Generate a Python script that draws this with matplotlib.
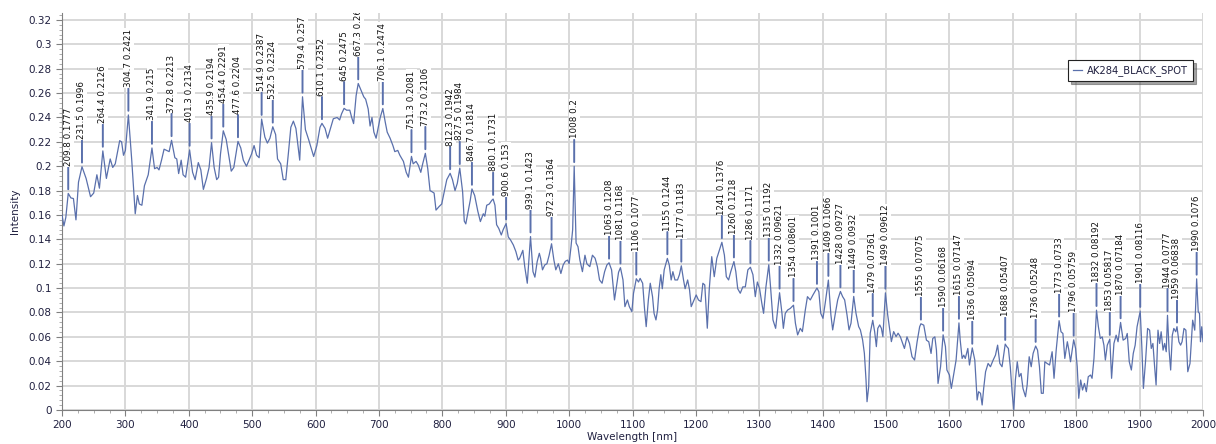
import matplotlib
matplotlib.use("Agg")
import matplotlib.pyplot as plt
from matplotlib.ticker import MultipleLocator, FuncFormatter
from matplotlib.transforms import ScaledTranslation

# spectrum
wavelength = [
    200, 203, 206, 209.8, 214, 218, 222, 226, 231.5, 238, 245, 250, 255, 259, 264.4, 270, 276, 280, 284,
    291, 294, 297, 300, 304.7, 310, 315.5, 319, 322, 326, 330, 336, 341.9, 346, 350, 353, 357, 361, 365,
    369, 372.8, 378, 381, 384, 388, 391, 395, 401.3, 406, 410, 415, 419, 423, 428, 432, 435.9, 440, 444,
    447, 450, 454.4, 459, 463, 467, 471, 477.6, 482, 486, 491, 495, 499, 503, 507, 511, 514.9, 520, 524,
    528, 532.5, 537, 540, 545, 549, 553, 557, 561, 565, 569, 572, 575, 579.4, 584, 589, 593, 597, 602,
    607, 610.1, 615, 619, 623, 628, 634, 638, 641, 645, 649, 654, 657, 660, 664, 667.3, 672, 676, 679,
    683, 686, 689, 692, 695.5, 699, 702, 706.1, 710, 713, 717.6, 722, 725, 729.7, 733, 738.6, 743, 746.5,
    751.3, 754, 758.5, 762, 766, 769, 773.2, 777, 780.6, 784, 787, 790, 795, 799, 802.6, 807, 812.3, 816,
    820, 823.6, 827.5, 832, 834.6, 837, 841, 844, 846.7, 851, 856, 860, 864.6, 867, 870, 874, 878, 880.1,
    883, 885.6, 889, 893, 896, 900.6, 904, 907.6, 912, 916, 919.6, 922, 927, 930, 934, 939.1, 943, 946,
    949.6, 953, 955, 958, 961.6, 965, 968.5, 972.3, 976, 979, 983, 987, 990.6, 994, 997.6, 1000, 1003,
    1005.6, 1008, 1011, 1014, 1017, 1021, 1025, 1028, 1032.6, 1036.8, 1041, 1044.6, 1048, 1052, 1056,
    1059.6, 1063, 1067, 1071.6, 1075, 1078, 1081, 1085, 1088, 1092, 1095, 1099, 1101.6, 1106, 1109.5,
    1112, 1116, 1119, 1121.6, 1125, 1128, 1131.6, 1134, 1137, 1139.5, 1142, 1144.7, 1147, 1150, 1155,
    1158, 1161, 1163.7, 1167, 1171, 1174, 1177, 1180.5, 1183, 1187, 1190, 1192.6, 1196, 1200.5, 1204,
    1208, 1211, 1214, 1218, 1221, 1225, 1229, 1233, 1237, 1241, 1245, 1248, 1251.6, 1255, 1260, 1263,
    1266, 1270, 1274, 1278, 1282, 1286, 1290, 1293.7, 1297, 1300.5, 1304, 1306.8, 1310.5, 1315, 1318,
    1321.6, 1325.8, 1329, 1332, 1335.8, 1338, 1341, 1344.7, 1349, 1354, 1357, 1360.5, 1364.7, 1368,
    1372.6, 1376, 1380.5, 1384.7, 1391, 1394, 1397, 1400.5, 1404, 1409, 1413, 1415.8, 1420, 1423.7, 1428,
    1431.5, 1434.7, 1438.4, 1441.6, 1444.7, 1449, 1452.6, 1456.8, 1459.5, 1463, 1465.8, 1468.4, 1470,
    1472.6, 1475, 1479, 1482, 1484.7, 1487, 1490, 1492.6, 1495, 1499, 1502.6, 1505.8, 1508.4, 1512,
    1515.8, 1519, 1522.6, 1529, 1533, 1537, 1541, 1545, 1549, 1553, 1555, 1559.5, 1563.7, 1567.4, 1571,
    1573.7, 1577, 1579.5, 1582, 1586, 1590, 1593.7, 1596, 1600, 1603, 1607, 1610.5, 1615, 1617, 1620,
    1622.6, 1625, 1629, 1631.6, 1636, 1640, 1643.7, 1646, 1649, 1651.6, 1654, 1657, 1661, 1664.7, 1669,
    1672.6, 1676, 1679.5, 1683, 1688, 1690.5, 1693, 1696, 1699, 1701.6, 1704, 1707, 1710, 1713, 1716,
    1720, 1722.6, 1725.8, 1729, 1732, 1736, 1739, 1742, 1745, 1748, 1750.5, 1754, 1758, 1762, 1765,
    1768.4, 1773, 1776, 1779, 1782, 1786, 1788.4, 1791, 1796, 1799, 1801.6, 1804, 1807, 1810, 1813, 1816,
    1819, 1822.6, 1825, 1828, 1832, 1835, 1838, 1841, 1843.7, 1846, 1849, 1853, 1855.8, 1859.5, 1863,
    1866, 1870, 1874, 1878, 1880.5, 1883.7, 1887, 1890, 1893, 1896, 1901, 1903.5, 1906, 1909.5, 1912.6,
    1915.8, 1918.4, 1921, 1923.7, 1926, 1929, 1931.6, 1934, 1937, 1939.5, 1942, 1944, 1946.5, 1949,
    1951.6, 1954, 1957, 1959, 1962, 1964.7, 1967, 1970, 1973, 1976, 1979.5, 1981.6, 1983.7, 1987, 1990,
    1992.5, 1994.5, 1996, 1998, 2000,
]
intensity = [
    0.160, 0.151, 0.158, 0.1777, 0.174, 0.1735, 0.156, 0.187, 0.1996, 0.19, 0.175, 0.178, 0.193, 0.182,
    0.2126, 0.19, 0.206, 0.199, 0.202, 0.221, 0.22, 0.209, 0.213, 0.2421, 0.205, 0.161, 0.176, 0.169,
    0.168, 0.184, 0.193, 0.215, 0.198, 0.199, 0.197, 0.205, 0.214, 0.213, 0.212, 0.2213, 0.207, 0.206,
    0.194, 0.205, 0.193, 0.191, 0.2134, 0.195, 0.189, 0.203, 0.197, 0.181, 0.19, 0.199, 0.2194, 0.199,
    0.189, 0.191, 0.21, 0.2291, 0.222, 0.209, 0.196, 0.199, 0.2204, 0.215, 0.205, 0.2, 0.205, 0.21,
    0.217, 0.209, 0.207, 0.2387, 0.224, 0.219, 0.223, 0.2324, 0.226, 0.206, 0.202, 0.189, 0.189, 0.21,
    0.232, 0.237, 0.231, 0.218, 0.205, 0.257, 0.23, 0.222, 0.215, 0.208, 0.217, 0.232, 0.2352, 0.231,
    0.223, 0.23, 0.239, 0.24, 0.238, 0.243, 0.2475, 0.246, 0.246, 0.24, 0.235, 0.258, 0.2679, 0.262,
    0.257, 0.255, 0.247, 0.233, 0.24, 0.228, 0.223, 0.232, 0.24, 0.2474, 0.236, 0.228, 0.223, 0.217,
    0.212, 0.213, 0.209, 0.204, 0.195, 0.191, 0.2081, 0.202, 0.204, 0.201, 0.195, 0.202, 0.2106, 0.198,
    0.18, 0.179, 0.178, 0.164, 0.167, 0.169, 0.178, 0.189, 0.1942, 0.189, 0.18, 0.186, 0.1984, 0.179,
    0.155, 0.1527, 0.164, 0.172, 0.1814, 0.176, 0.163, 0.1546, 0.161, 0.159, 0.168, 0.169, 0.172, 0.1731,
    0.168, 0.152, 0.149, 0.1436, 0.148, 0.153, 0.142, 0.1395, 0.1354, 0.13, 0.123, 0.1245, 0.131,
    0.1176, 0.104, 0.1423, 0.1135, 0.109, 0.1217, 0.1286, 0.1245, 0.115, 0.119, 0.12, 0.127, 0.1364,
    0.123, 0.115, 0.12, 0.112, 0.119, 0.122, 0.123, 0.12, 0.134, 0.148, 0.2, 0.137, 0.134, 0.123, 0.1135,
    0.127, 0.12, 0.1176, 0.127, 0.1245, 0.1176, 0.1067, 0.104, 0.1135, 0.119, 0.1208, 0.115, 0.0903,
    0.1026, 0.113, 0.1168, 0.1067, 0.0848, 0.0903, 0.0848, 0.0807, 0.0958, 0.1077, 0.105, 0.108, 0.104,
    0.083, 0.0684, 0.0903, 0.104, 0.093, 0.0793, 0.0739, 0.082, 0.0995, 0.111, 0.0995, 0.115, 0.1244,
    0.119, 0.1067, 0.1135, 0.1067, 0.1067, 0.111, 0.1183, 0.1067, 0.0995, 0.1067, 0.0985, 0.0848, 0.0889,
    0.0944, 0.0903, 0.0889, 0.104, 0.1026, 0.0671, 0.0985, 0.1258, 0.1094, 0.1245, 0.131, 0.1376, 0.127,
    0.1094, 0.1067, 0.1135, 0.1218, 0.1135, 0.0995, 0.0958, 0.101, 0.101, 0.115, 0.1171, 0.111, 0.093,
    0.105, 0.0995, 0.0876, 0.0793, 0.101, 0.1192, 0.0995, 0.0739, 0.067, 0.082, 0.09621, 0.0793, 0.067,
    0.0793, 0.082, 0.0834, 0.08601, 0.0712, 0.0616, 0.067, 0.0643, 0.082, 0.093, 0.0903, 0.0944, 0.1001,
    0.097, 0.0793, 0.0752, 0.0876, 0.1066, 0.078, 0.0657, 0.0793, 0.0903, 0.09727, 0.093, 0.0903, 0.078,
    0.0657, 0.0712, 0.0932, 0.0793, 0.0684, 0.0657, 0.0575, 0.0465, 0.0246, 0.0068, 0.0191, 0.063,
    0.07361, 0.0643, 0.052, 0.067, 0.0698, 0.067, 0.0602, 0.09612, 0.078, 0.0657, 0.0561, 0.0643,
    0.0602, 0.063, 0.06, 0.0505, 0.06, 0.0546, 0.0437, 0.041, 0.056, 0.0683, 0.07075, 0.0696, 0.0573,
    0.056, 0.0464, 0.0587, 0.06, 0.0491, 0.0218, 0.0355, 0.06168, 0.052, 0.0328, 0.0287, 0.0177, 0.03,
    0.041, 0.07147, 0.0573, 0.0423, 0.045, 0.0423, 0.0505, 0.0369, 0.05094, 0.041, 0.0082, 0.015,
    0.0137, 0.0041, 0.0177, 0.0314, 0.0382, 0.0355, 0.041, 0.045, 0.0532, 0.0382, 0.0355, 0.05407,
    0.052, 0.0505, 0.0355, 0.0137, 0.0, 0.0246, 0.0396, 0.0273, 0.03, 0.0177, 0.0109, 0.0205, 0.0437,
    0.0355, 0.0464, 0.05248, 0.0491, 0.0355, 0.0137, 0.0137, 0.0396, 0.0382, 0.0369, 0.0478, 0.026,
    0.0491, 0.0733, 0.0642, 0.0628, 0.0423, 0.056, 0.0491, 0.0396, 0.05759, 0.0505, 0.0355, 0.0096,
    0.0246, 0.0164, 0.0218, 0.015, 0.0273, 0.0287, 0.026, 0.0423, 0.08192, 0.0683, 0.0587, 0.06, 0.0532,
    0.041, 0.0532, 0.05817, 0.026, 0.0546, 0.0614, 0.056, 0.07184, 0.0573, 0.0587, 0.0628, 0.0396,
    0.0328, 0.0464, 0.0532, 0.0683, 0.08116, 0.052, 0.0177, 0.041, 0.0669, 0.0655, 0.0505, 0.0546,
    0.0355, 0.0205, 0.0655, 0.0546, 0.0642, 0.0491, 0.0546, 0.0478, 0.0777, 0.0491, 0.0328, 0.0614,
    0.0669, 0.0642, 0.06838, 0.056, 0.0532, 0.056, 0.0669, 0.0655, 0.0314, 0.0382, 0.056, 0.0737,
    0.0655, 0.1076, 0.0805, 0.0792, 0.056, 0.0683, 0.056,
]

# annotated peaks (wavelength, intensity, label text)
peak_x = [209.8, 231.5, 264.4, 304.7, 341.9, 372.8, 401.3, 435.9, 454.4, 477.6, 514.9, 532.5, 579.4,
          610.1, 645, 667.3, 706.1, 751.3, 773.2, 812.3, 827.5, 846.7, 880.1, 900.6, 939.1, 972.3, 1008,
          1063, 1081, 1106, 1155, 1177, 1241, 1260, 1286, 1315, 1332, 1354, 1391, 1409, 1428, 1449, 1479,
          1499, 1555, 1590, 1615, 1636, 1688, 1736, 1773, 1796, 1832, 1853, 1870, 1901, 1944, 1959, 1990]
peak_y = [0.1777, 0.1996, 0.2126, 0.2421, 0.215, 0.2213, 0.2134, 0.2194, 0.2291, 0.2204, 0.2387, 0.2324,
          0.257, 0.2352, 0.2475, 0.2679, 0.2474, 0.2081, 0.2106, 0.1942, 0.1984, 0.1814, 0.1731, 0.153,
          0.1423, 0.1364, 0.2, 0.1208, 0.1168, 0.1077, 0.1244, 0.1183, 0.1376, 0.1218, 0.1171, 0.1192,
          0.09621, 0.08601, 0.1001, 0.1066, 0.09727, 0.0932, 0.07361, 0.09612, 0.07075, 0.06168, 0.07147,
          0.05094, 0.05407, 0.05248, 0.0733, 0.05759, 0.08192, 0.05817, 0.07184, 0.08116, 0.0777, 0.06838,
          0.1076]
peak_text = ["209.8 0.1777", "231.5 0.1996", "264.4 0.2126", "304.7 0.2421", "341.9 0.215",
             "372.8 0.2213", "401.3 0.2134", "435.9 0.2194", "454.4 0.2291", "477.6 0.2204",
             "514.9 0.2387", "532.5 0.2324", "579.4 0.257", "610.1 0.2352", "645 0.2475", "667.3 0.2679",
             "706.1 0.2474", "751.3 0.2081", "773.2 0.2106", "812.3 0.1942", "827.5 0.1984",
             "846.7 0.1814", "880.1 0.1731", "900.6 0.153", "939.1 0.1423", "972.3 0.1364", "1008 0.2",
             "1063 0.1208", "1081 0.1168", "1106 0.1077", "1155 0.1244", "1177 0.1183", "1241 0.1376",
             "1260 0.1218", "1286 0.1171", "1315 0.1192", "1332 0.09621", "1354 0.08601", "1391 0.1001",
             "1409 0.1066", "1428 0.09727", "1449 0.0932", "1479 0.07361", "1499 0.09612", "1555 0.07075",
             "1590 0.06168", "1615 0.07147", "1636 0.05094", "1688 0.05407", "1736 0.05248", "1773 0.0733",
             "1796 0.05759", "1832 0.08192", "1853 0.05817", "1870 0.07184", "1901 0.08116", "1944 0.0777",
             "1959 0.06838", "1990 0.1076"]

series_name = "AK284_BLACK_SPOT"
line_color = "#5a70ac"
text_color = "#202040"

fig = plt.figure(figsize=(12.16, 4.44), dpi=100)
ax = fig.add_axes([0.051, 0.0766, 0.9383, 0.894])

ax.plot(wavelength, intensity, color=line_color, lw=0.9, label=series_name, zorder=3)

# peak markers: short tick above the peak, rotated label above it
for x, y, t in zip(peak_x, peak_y, peak_text):
    ax.annotate("", xy=(x, y), xytext=(0, 19), textcoords="offset points",
                arrowprops=dict(arrowstyle="-", color=line_color, lw=1.4, shrinkA=0, shrinkB=3),
                zorder=4)
    tr = ax.transData + ScaledTranslation(0, 20 / 72, fig.dpi_scale_trans)
    ax.text(x, y, t, transform=tr, rotation=90, ha="center", va="bottom", fontsize=6.3,
            color="#111111", clip_on=True, zorder=5,
            bbox=dict(boxstyle="square,pad=0.1", fc="white", ec="none"))

ax.set_xlim(200, 2000)
ax.set_ylim(0, 0.3257)
ax.xaxis.set_major_locator(MultipleLocator(100))
ax.xaxis.set_minor_locator(MultipleLocator(25))
ax.yaxis.set_major_locator(MultipleLocator(0.02))
ax.yaxis.set_minor_locator(MultipleLocator(0.004))
ax.yaxis.set_major_formatter(FuncFormatter(lambda v, p: "%g" % round(v, 4)))

ax.grid(True, which="major", color="#d8d8d8", lw=1.4, zorder=0)
ax.set_axisbelow(True)
for s in ["top", "right"]:
    ax.spines[s].set_visible(False)
for s in ["left", "bottom"]:
    ax.spines[s].set_color("#808080")
ax.tick_params(which="major", length=4, color="#808080", labelsize=7.5, labelcolor=text_color)
ax.tick_params(which="minor", length=2, color="#a0a0a0")

ax.set_xlabel("Wavelength [nm]", fontsize=7.5, color=text_color, labelpad=1)
ax.set_ylabel("Intensity", fontsize=7.5, color=text_color, labelpad=6)

leg = ax.legend(loc="upper right", bbox_to_anchor=(0.9956, 0.894), fontsize=7.2, fancybox=False,
                shadow=True, edgecolor="#222222", framealpha=1, handlelength=0.9, handletextpad=0.5,
                borderpad=0.5)
leg.get_frame().set_linewidth(0.8)
for t in leg.get_texts():
    t.set_color(text_color)

fig.savefig("out.png", dpi=100)
